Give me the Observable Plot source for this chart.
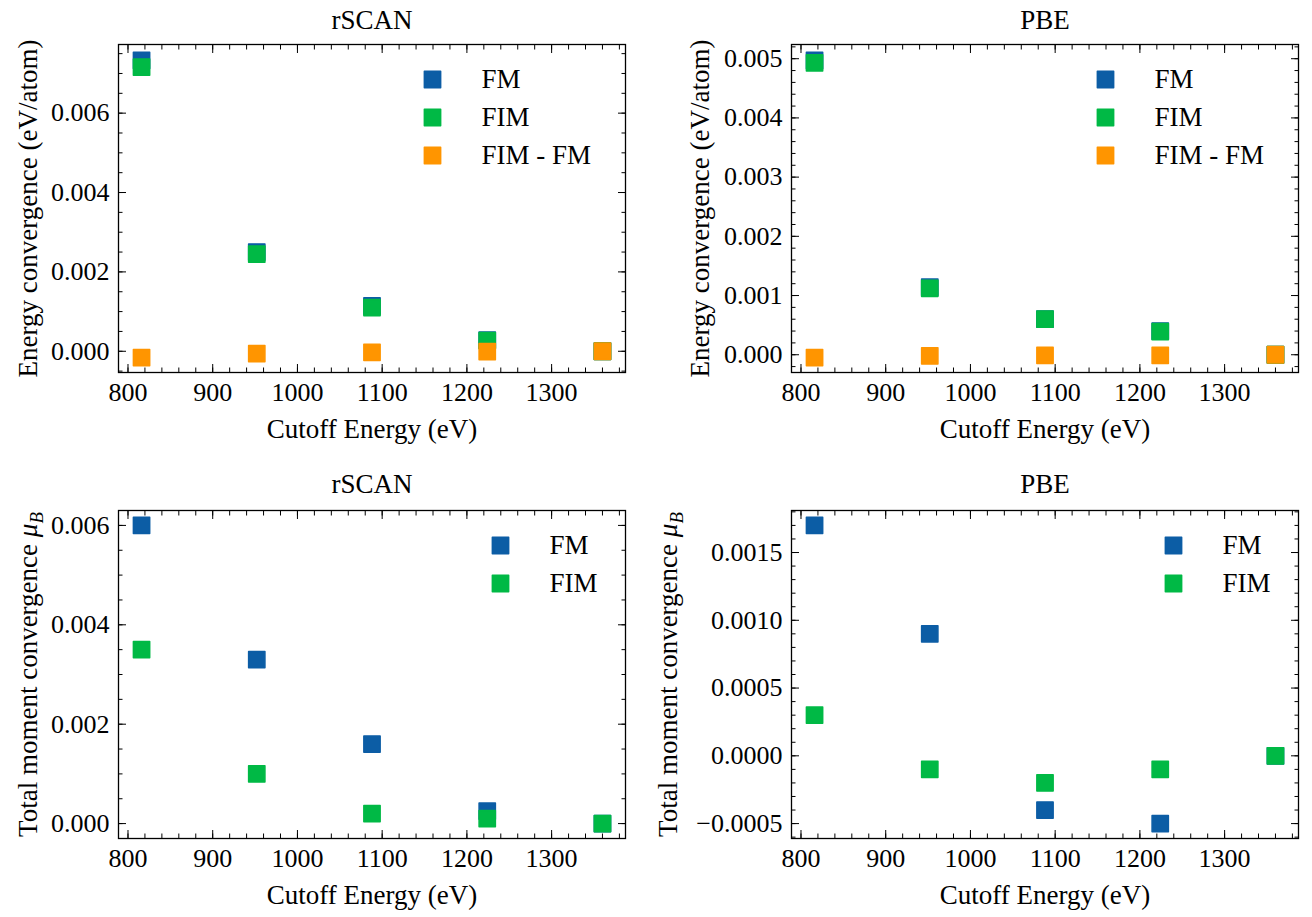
<!DOCTYPE html>
<html><head><meta charset="utf-8">
<script src="https://cdn.jsdelivr.net/npm/d3@7"></script>
<script src="https://cdn.jsdelivr.net/npm/@observablehq/plot@0.6"></script>
<style>
body{margin:0;background:#fff;}
#chart{position:relative;width:1312px;height:917px;background:#fff;}
</style></head><body><div id="chart"></div>
<script>
// ---- data ----
const cutoff = [816, 952, 1088, 1224, 1360];
const seriesNames = ["FM", "FIM", "FIM - FM"];
const seriesColors = ["#0C5DA5", "#00B945", "#FF9500"];

const rscanEnergyFM   = [0.00733, 0.00250, 0.00114, 0.00028, 0];
const rscanEnergyFIM  = [0.00716, 0.00245, 0.00110, 0.00027, 0];
const rscanEnergyDiff = [-0.00016, -0.00006, -0.00003, -0.00001, 0];

const pbeEnergyFM   = [0.00497, 0.00114, 0.00060, 0.00040, 0];
const pbeEnergyFIM  = [0.00493, 0.00112, 0.00060, 0.00039, 0];
const pbeEnergyDiff = [-0.00005, -0.00002, -0.00001, -0.00001, 0];

const rscanMomentFM  = [0.0060, 0.0033, 0.0016, 0.00025, 0];
const rscanMomentFIM = [0.0035, 0.0010, 0.0002, 0.0001, 0];

const pbeMomentFM  = [0.0017, 0.0009, -0.0004, -0.0005, 0];
const pbeMomentFIM = [0.0003, -0.0001, -0.0002, -0.0001, 0];

const xTicks = [800, 900, 1000, 1100, 1200, 1300];
const yTicksRscanEnergy = [0, 0.002, 0.004, 0.006];
const yTicksPbeEnergy = [0, 0.001, 0.002, 0.003, 0.004, 0.005];
const yTicksRscanMoment = [0, 0.002, 0.004, 0.006];
const yTicksPbeMoment = [-0.0005, 0, 0.0005, 0.0010, 0.0015];

const titleRscan = "rSCAN", titlePbe = "PBE";
const xLabel = "Cutoff Energy (eV)";
const yLabelEnergy = "Energy convergence (eV/atom)";
const yLabelMoment = "Total moment convergence μB";

// ---- drawing ----
const FONT = "'Liberation Serif', 'DejaVu Serif', serif";
const FS = 26;
const FL = 27;
const xDomain = [788.8, 1387.2];

function minor(step, domain) {
  const out = [];
  const k0 = Math.ceil(domain[0] / step - 1e-9), k1 = Math.floor(domain[1] / step + 1e-9);
  for (let k = k0; k <= k1; k++) out.push(+(k * step).toFixed(8));
  return out;
}

function panel(o) {
  const data = [];
  o.series.forEach((vals, s) => vals.forEach((v, i) => data.push({x: cutoff[i], y: v, name: seriesNames[s]})));
  const names = seriesNames.slice(0, o.series.length);
  const yMaj = o.yMajor.filter(v => v >= o.yDomain[0] && v <= o.yDomain[1]);
  const yMin = minor(o.yMinorStep, o.yDomain);
  const xMaj = xTicks.filter(v => v >= xDomain[0] && v <= xDomain[1]);
  const xMin = minor(20, xDomain);
  const tickCommon = {label: null, stroke: "black", strokeWidth: 1};
  const marks = [
    Plot.axisX(xMin, {...tickCommon, anchor: "bottom", tickSize: -4.5, tickFormat: () => ""}),
    Plot.axisX(xMin, {...tickCommon, anchor: "top", tickSize: -4.5, tickFormat: () => ""}),
    Plot.axisX(xMaj, {...tickCommon, anchor: "bottom", tickSize: -8, tickPadding: 18, tickFormat: d => String(d), fontSize: FS}),
    Plot.axisX(xMaj, {...tickCommon, anchor: "top", tickSize: -8, tickFormat: () => ""}),
    Plot.axisY(yMin, {...tickCommon, anchor: "left", tickSize: -4.5, tickFormat: () => ""}),
    Plot.axisY(yMin, {...tickCommon, anchor: "right", tickSize: -4.5, tickFormat: () => ""}),
    Plot.axisY(yMaj, {...tickCommon, anchor: "left", tickSize: -8, tickPadding: 17, tickFormat: d3.format(o.yFormat), fontSize: FS}),
    Plot.axisY(yMaj, {...tickCommon, anchor: "right", tickSize: -8, tickFormat: () => ""}),
    Plot.frame({stroke: "black", strokeWidth: 1.3}),
    Plot.dot(data, {x: "x", y: "y", fill: "name", stroke: "name", strokeWidth: 1.5, strokeLinejoin: "round", symbol: "square", r: 9.2}),
    Plot.text([o.title], {frameAnchor: "top", dy: o.titleDy, text: d => d, fontSize: FL, textAnchor: "middle", lineAnchor: "middle", fill: "black"}),
    Plot.text([xLabel], {frameAnchor: "bottom", dy: 57, text: d => d, fontSize: FL, textAnchor: "middle", lineAnchor: "middle", fill: "black"}),
    Plot.text([o.ylabel], {frameAnchor: "left", dx: o.ylabelDx, rotate: -90, text: d => d, fontSize: FL, textAnchor: "middle", lineAnchor: "middle", fill: "black"})
  ];
  names.forEach((n, i) => {
    marks.push(Plot.dot([n], {frameAnchor: "top-right", dx: o.legendDx, dy: 35 + 38 * i, fill: seriesColors[i], stroke: seriesColors[i], strokeWidth: 1.5, strokeLinejoin: "round", symbol: "square", r: 9.2}));
    marks.push(Plot.text([n], {frameAnchor: "top-right", dx: o.legendDx + 49, dy: 35 + 38 * i, text: d => d, textAnchor: "start", lineAnchor: "middle", fontSize: FL, fill: "black"}));
  });
  const svg = Plot.plot({
    width: o.w, height: o.h,
    marginLeft: o.ml, marginRight: o.mr, marginTop: o.mt, marginBottom: o.mb,
    x: {domain: xDomain, label: null},
    y: {domain: o.yDomain, label: null},
    color: {domain: names, range: seriesColors.slice(0, names.length)},
    style: {fontFamily: FONT, fontSize: FS + "px", color: "black", background: "white", position: "absolute", left: o.left + "px", top: o.top + "px", overflow: "visible"},
    marks
  });
  // italic mu with subscript B
  d3.select(svg).selectAll("text").each(function() {
    if (this.textContent === "Total moment convergence μB") {
      const t = d3.select(this);
      t.text(null);
      t.append("tspan").text("Total moment convergence ");
      t.append("tspan").attr("font-style", "italic").text("μ");
      t.append("tspan").attr("font-style", "italic").attr("font-size", "0.7em").attr("dy", "0.3em").text("B");
    }
  });
  document.getElementById("chart").appendChild(svg);
}

panel({left: 0, top: 0, w: 656, h: 458, ml: 118, mr: 31, mt: 44, mb: 86,
  series: [rscanEnergyFM, rscanEnergyFIM, rscanEnergyDiff], yDomain: [-0.000535, 0.00773],
  yMajor: yTicksRscanEnergy, yMinorStep: 0.0005, yFormat: ".3f",
  title: titleRscan, titleDy: -24, ylabel: yLabelEnergy, ylabelDx: -90, legendDx: -193});
panel({left: 656, top: 0, w: 656, h: 458, ml: 135, mr: 14, mt: 44, mb: 86,
  series: [pbeEnergyFM, pbeEnergyFIM, pbeEnergyDiff], yDomain: [-0.0003, 0.00524],
  yMajor: yTicksPbeEnergy, yMinorStep: 0.0002, yFormat: ".3f",
  title: titlePbe, titleDy: -24, ylabel: yLabelEnergy, ylabelDx: -91, legendDx: -193});
panel({left: 0, top: 458, w: 656, h: 459, ml: 118, mr: 31, mt: 52, mb: 79,
  series: [rscanMomentFM, rscanMomentFIM], yDomain: [-0.0003, 0.0063],
  yMajor: yTicksRscanMoment, yMinorStep: 0.0005, yFormat: ".3f",
  title: titleRscan, titleDy: -26, ylabel: yLabelMoment, ylabelDx: -90, legendDx: -125});
panel({left: 656, top: 458, w: 656, h: 459, ml: 135, mr: 14, mt: 52, mb: 79,
  series: [pbeMomentFM, pbeMomentFIM], yDomain: [-0.00061, 0.00181],
  yMajor: yTicksPbeMoment, yMinorStep: 0.0001, yFormat: ".4f",
  title: titlePbe, titleDy: -26, ylabel: yLabelMoment, ylabelDx: -123, legendDx: -125});
</script></body></html>
